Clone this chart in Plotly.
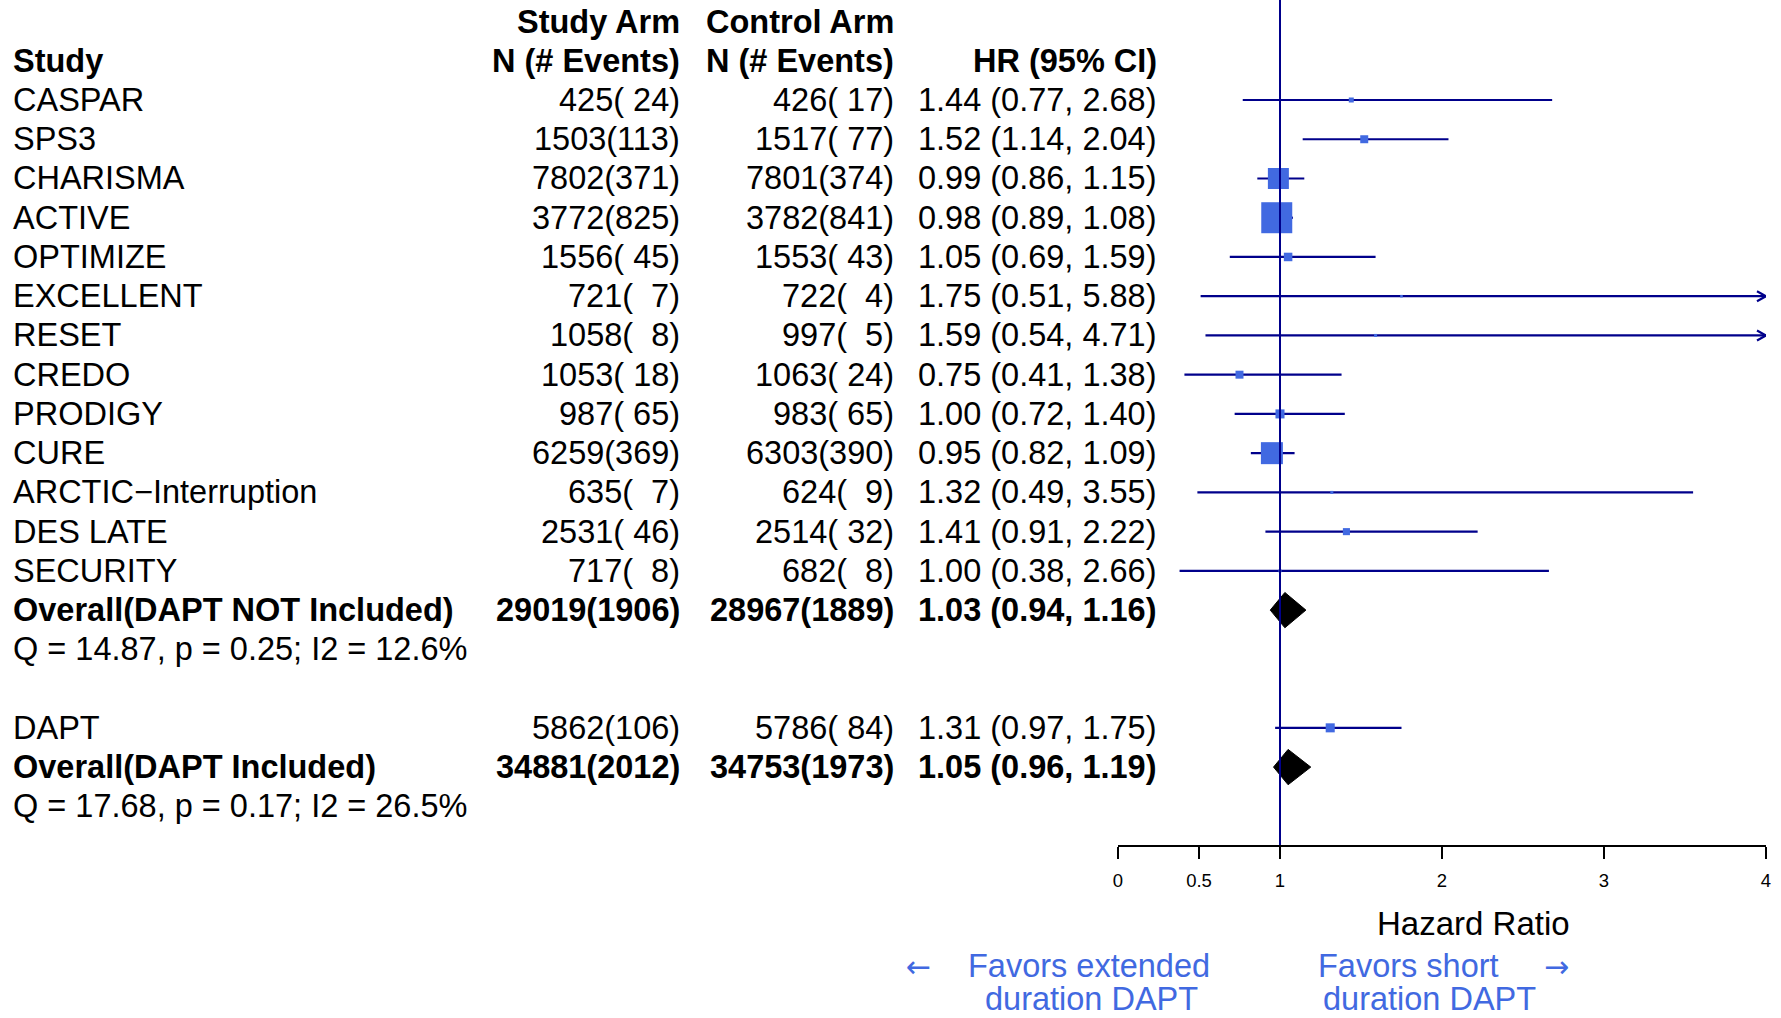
import plotly.graph_objects as go

# ---------------- data ----------------
studies = ["CASPAR", "SPS3", "CHARISMA", "ACTIVE", "OPTIMIZE", "EXCELLENT", "RESET",
           "CREDO", "PRODIGY", "CURE", "ARCTIC\u2212Interruption", "DES LATE", "SECURITY", "DAPT"]
study_n = [425, 1503, 7802, 3772, 1556, 721, 1058, 1053, 987, 6259, 635, 2531, 717, 5862]
study_ev = [24, 113, 371, 825, 45, 7, 8, 18, 65, 369, 7, 46, 8, 106]
control_n = [426, 1517, 7801, 3782, 1553, 722, 997, 1063, 983, 6303, 624, 2514, 682, 5786]
control_ev = [17, 77, 374, 841, 43, 4, 5, 24, 65, 390, 9, 32, 8, 84]
hr = [1.44, 1.52, 0.99, 0.98, 1.05, 1.75, 1.59, 0.75, 1.00, 0.95, 1.32, 1.41, 1.00, 1.31]
lo = [0.77, 1.14, 0.86, 0.89, 0.69, 0.51, 0.54, 0.41, 0.72, 0.82, 0.49, 0.91, 0.38, 0.97]
hi = [2.68, 2.04, 1.15, 1.08, 1.59, 5.88, 4.71, 1.38, 1.40, 1.09, 3.55, 2.22, 2.66, 1.75]
weight = [1.1, 2.8, 19.4, 42.3, 3.2, 0.3, 0.4, 2.8, 3.6, 21.3, 0.4, 2.2, 0.4, 3.6]

summary_labels = ["Overall(DAPT NOT Included)", "Overall(DAPT Included)"]
summary_study_n = [29019, 34881]
summary_study_ev = [1906, 2012]
summary_control_n = [28967, 34753]
summary_control_ev = [1889, 1973]
summary_hr = [1.03, 1.05]
summary_lo = [0.94, 0.96]
summary_hi = [1.16, 1.19]
heterogeneity = ["Q = 14.87, p = 0.25; I2 = 12.6%", "Q = 17.68, p = 0.17; I2 = 26.5%"]

x_ticks = [0, 0.5, 1, 2, 3, 4]
x_ticktext = ["0", "0.5", "1", "2", "3", "4"]

# row layout (top to bottom)
study_rows = list(range(13)) + [16]
summary_rows = [13, 17]
het_rows = [14, 18]

# ---------------- geometry / style ----------------
W, H = 1781, 1018
X0_PX, X1_PX = 1118, 1766          # x = 0 .. 4
ROW0_PX, ROW_STEP = 100.0, 39.24
AXIS_PX = 845
XMIN, XMAX = 0, 4
Y_TOP = (0 - ROW0_PX) / ROW_STEP
Y_BOT = (AXIS_PX - ROW0_PX) / ROW_STEP
PX_PER_X = (X1_PX - X0_PX) / (XMAX - XMIN)

FONT = "Liberation Sans, Arial, Helvetica, sans-serif"
ARROW_FONT = "DejaVu Sans, sans-serif"
FS = 32.5
NAVY = "#00008B"
BOX = "#4169E1"

COL_STUDY = 10.5
COL_SARM = 682
COL_CARM = 896
COL_HR = 1159


def fmt_n(n, ev):
    return f"{n}({ev:>3})".replace(" ", "\u00a0")


def fmt_hr(h, l, u):
    return f"{h:.2f} ({l:.2f}, {u:.2f})".replace(" ", "\u00a0")


fig = go.Figure()

# confidence interval lines
ci_x, ci_y = [], []
arrow_x, arrow_y = [], []
dx = 9 / PX_PER_X
dy = 5 / ROW_STEP
for r, l, u in zip(study_rows, lo, hi):
    uu = min(u, XMAX)
    ci_x += [max(l, XMIN), uu, None]
    ci_y += [r, r, None]
    if u > XMAX:
        arrow_x += [XMAX - dx, XMAX, XMAX - dx, None]
        arrow_y += [r - dy, r, r + dy, None]

fig.add_trace(go.Scatter(x=ci_x, y=ci_y, mode="lines",
                         line=dict(color=NAVY, width=2.2), hoverinfo="skip", showlegend=False))
fig.add_trace(go.Scatter(x=arrow_x, y=arrow_y, mode="lines",
                         line=dict(color=NAVY, width=2.2), hoverinfo="skip", showlegend=False))

# boxes sized by weight
max_w = max(weight)
sizes = [max(31 * (w / max_w) ** 0.5, 2) for w in weight]
fig.add_trace(go.Scatter(x=hr, y=study_rows, mode="markers",
                         marker=dict(symbol="square", size=sizes, color=BOX, opacity=1,
                                     line=dict(width=0)),
                         hoverinfo="skip", showlegend=False))

# summary diamonds
for r, h, l, u in zip(summary_rows, summary_hr, summary_lo, summary_hi):
    fig.add_trace(go.Scatter(x=[l, h, u, h, l], y=[r, r - 0.45, r, r + 0.45, r],
                             mode="lines", fill="toself", fillcolor="black",
                             line=dict(color="black", width=1), hoverinfo="skip",
                             showlegend=False))

# reference line at HR = 1
fig.add_shape(type="line", xref="x", yref="y", x0=1, x1=1, y0=Y_TOP, y1=Y_BOT,
              line=dict(color=NAVY, width=2))

# ---------------- text columns ----------------
def txt(x_px, row, text, anchor, bold=False, color="black", size=FS):
    t = f"<b>{text}</b>" if bold else text
    fig.add_annotation(x=x_px / W, xref="paper", y=row, yref="y", text=t,
                       showarrow=False, xanchor=anchor, yanchor="middle",
                       font=dict(family=FONT, size=size, color=color))


# headers
txt(COL_SARM, -2, "Study Arm", "right", bold=True)
txt(COL_CARM, -2, "Control Arm", "right", bold=True)
txt(COL_STUDY, -1, "Study", "left", bold=True)
txt(COL_SARM, -1, "N (# Events)", "right", bold=True)
txt(COL_CARM, -1, "N (# Events)", "right", bold=True)
txt(COL_HR, -1, "HR (95% CI)", "right", bold=True)

for i, r in enumerate(study_rows):
    txt(COL_STUDY, r, studies[i], "left")
    txt(COL_SARM, r, fmt_n(study_n[i], study_ev[i]), "right")
    txt(COL_CARM, r, fmt_n(control_n[i], control_ev[i]), "right")
    txt(COL_HR, r, fmt_hr(hr[i], lo[i], hi[i]), "right")

for i, r in enumerate(summary_rows):
    txt(COL_STUDY, r, summary_labels[i], "left", bold=True)
    txt(COL_SARM, r, fmt_n(summary_study_n[i], summary_study_ev[i]), "right", bold=True)
    txt(COL_CARM, r, fmt_n(summary_control_n[i], summary_control_ev[i]), "right", bold=True)
    txt(COL_HR, r, fmt_hr(summary_hr[i], summary_lo[i], summary_hi[i]), "right", bold=True)

for i, r in enumerate(het_rows):
    txt(COL_STUDY, r, heterogeneity[i], "left")

# axis title and direction labels
def ptxt(x_px, y_px, text, anchor, color="black", size=FS, family=FONT):
    fig.add_annotation(x=x_px / W, xref="paper", y=1 - y_px / H, yref="paper", text=text,
                       showarrow=False, xanchor=anchor, yanchor="middle",
                       font=dict(family=family, size=size, color=color))


ptxt(1473, 923, "Hazard Ratio", "center", size=33)
ptxt(918, 966, "\u2190", "center", color=BOX, size=30, family=ARROW_FONT)
ptxt(1089, 966, "Favors extended", "center", color=BOX)
ptxt(1091, 999, "duration DAPT", "center", color=BOX)
ptxt(1316, 966, "Favors short", "left", color=BOX)
ptxt(1321, 999, "duration DAPT", "left", color=BOX)
ptxt(1556, 966, "\u2192", "center", color=BOX, size=30, family=ARROW_FONT)

fig.update_layout(
    width=W, height=H,
    margin=dict(l=0, r=0, t=0, b=0),
    paper_bgcolor="white", plot_bgcolor="white",
    xaxis=dict(domain=[X0_PX / W, X1_PX / W], range=[XMIN, XMAX],
               tickvals=x_ticks, ticktext=x_ticktext, automargin=False,
               ticks="outside", ticklen=12, tickwidth=2, tickcolor="black",
               showline=True, linecolor="black", linewidth=2,
               showgrid=False, zeroline=False, ticklabelstandoff=6,
               tickfont=dict(family=FONT, size=18.5, color="black")),
    yaxis=dict(domain=[1 - AXIS_PX / H, 1], range=[Y_BOT, Y_TOP], visible=False,
               showgrid=False, zeroline=False, automargin=False),
)

fig.write_html("out.html")
